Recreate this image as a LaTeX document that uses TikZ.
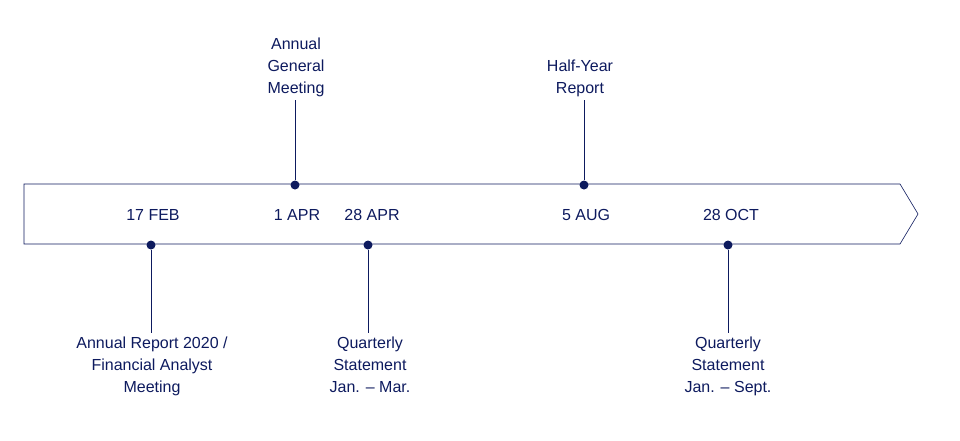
\documentclass[tikz,border=0pt]{standalone}
\usepackage{fontspec}
\setmainfont{Liberation Sans}
\usepackage{tikz}
\usetikzlibrary{positioning}
\definecolor{navy}{HTML}{0D1A5E}
\begin{document}
\begin{tikzpicture}[x=1pt,y=-1pt,
    dot/.style={circle,fill=navy,inner sep=0pt,minimum size=9pt},
    datelbl/.style={text=navy,font=\fontsize{16}{19}\selectfont},
    eventlbl/.style={text=navy,align=center,font=\fontsize{16}{22}\selectfont}]
    \useasboundingbox (0,0) rectangle (960,440);
    % arrow band
    \draw[navy,line width=0.6pt] (24,184) -- (900,184) -- (918,214) -- (900,244) -- (24,244) -- cycle;
    % dates
    \node[datelbl] (feb) at (153,215) {17 FEB};
    \node[datelbl] (apr) at (297,215) {1 APR};
    \node[datelbl] (aprb) at (372,215) {28 APR};
    \node[datelbl] (aug) at (586,215) {5 AUG};
    \node[datelbl] (oct) at (731,215) {28 OCT};
    % dots
    \node[dot] (dagm) at (295,185) {};
    \node[dot] (dhy) at (584,185) {};
    \node[dot] (dar) at (151,245) {};
    \node[dot] (dq1) at (368,245) {};
    \node[dot] (dq3) at (728,245) {};
    % events
    \node[eventlbl,anchor=south] (agm) at (296,100) {Annual\\General\\Meeting};
    \node[eventlbl,anchor=south] (hy) at (580,100) {Half-Year\\Report};
    \node[eventlbl,anchor=north] (ar) at (152,333) {Annual Report 2020 /\\Financial Analyst\\Meeting};
    \node[eventlbl,anchor=north] (q1) at (370,333) {Quarterly\\Statement\\Jan. -- Mar.};
    \node[eventlbl,anchor=north] (q3) at (728,333) {Quarterly\\Statement\\Jan. -- Sept.};
    % connectors
    \draw[navy,line width=0.5pt] (dagm) -- (dagm |- agm.south);
    \draw[navy,line width=0.5pt] (dhy) -- (dhy |- hy.south);
    \draw[navy,line width=0.5pt] (dar) -- (dar |- ar.north);
    \draw[navy,line width=0.5pt] (dq1) -- (dq1 |- q1.north);
    \draw[navy,line width=0.5pt] (dq3) -- (dq3 |- q3.north);
\end{tikzpicture}
\end{document}
